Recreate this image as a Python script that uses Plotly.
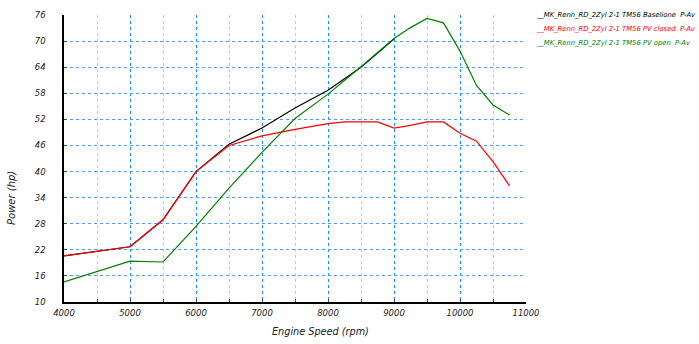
import plotly.graph_objects as go

# Data
rpm_base = [4000, 5000, 5500, 6000, 6500, 7000, 7500, 8000, 8500, 9000]
hp_base = [20.6, 22.7, 28.9, 40.0, 46.3, 50.0, 54.6, 58.7, 64.0, 70.5]

rpm_closed = [4000, 5000, 5500, 6000, 6500, 7000, 7500, 8000, 8250, 8500, 8750,
              9000, 9250, 9500, 9750, 10000, 10250, 10500, 10750]
hp_closed = [20.6, 22.7, 28.9, 40.0, 46.0, 48.2, 49.7, 51.0, 51.4, 51.4, 51.4,
             50.0, 50.6, 51.4, 51.4, 48.8, 47.0, 42.3, 36.7]

rpm_open = [4000, 5000, 5500, 6000, 6500, 7000, 7500, 8000, 8500, 9000, 9250,
            9500, 9750, 10000, 10250, 10500, 10750]
hp_open = [14.6, 19.4, 19.2, 27.4, 36.2, 44.4, 52.2, 57.8, 64.1, 70.6, 73.1,
           75.2, 74.2, 67.7, 59.8, 55.3, 53.0]

series_names = ["__MK_Renn_RD_2Zyl 2-1 TM56 Baselione  P-Av",
                "__MK_Renn_RD_2Zyl 2-1 TM56 PV closed  P-Av",
                "__MK_Renn_RD_2Zyl 2-1 TM56 PV open  P-Av"]
series_colors = ["#000000", "#ff0000", "#008000"]

y_ticks = [10, 16, 22, 28, 34, 40, 46, 52, 58, 64, 70, 76]
x_ticks = [4000, 5000, 6000, 7000, 8000, 9000, 10000, 11000]

FONT = "DejaVu Sans"

fig = go.Figure()
for xs, ys, name, col in [(rpm_base, hp_base, series_names[0], series_colors[0]),
                          (rpm_closed, hp_closed, series_names[1], series_colors[1]),
                          (rpm_open, hp_open, series_names[2], series_colors[2])]:
    fig.add_trace(go.Scatter(x=xs, y=ys, mode="lines", name=name,
                             line=dict(color=col, width=1.2), showlegend=False))

tickfont = dict(family=FONT, size=8.5, color="#222222")

fig.update_xaxes(range=[4000, 11000], tickvals=x_ticks,
                 ticktext=[f"<i>{v}</i>" for v in x_ticks],
                 minor=dict(dtick=500, tick0=4000, ticks="inside", ticklen=3,
                            tickcolor="#444444", showgrid=True,
                            gridcolor="#a8d0fa", griddash="dot"),
                 ticks="inside", ticklen=3, tickcolor="#444444",
                 showline=True, linecolor="#000000", linewidth=1.5,
                 tickfont=tickfont, zeroline=False, ticklabelstandoff=2,
                 showgrid=True, gridcolor="#1e88ff", gridwidth=1, griddash="dot")
fig.update_yaxes(range=[10, 76], tickvals=y_ticks,
                 ticktext=[f"<i>{v}</i>" for v in y_ticks],
                 ticks="inside", ticklen=3, tickcolor="#444444",
                 showline=True, linecolor="#000000", linewidth=1.5,
                 tickfont=tickfont, zeroline=False, ticklabelstandoff=15,
                 showgrid=True, gridcolor="#4a9dff", gridwidth=1, griddash="dot")

annots = []
for i, (name, col) in enumerate(zip(series_names, series_colors)):
    annots.append(dict(xref="paper", yref="paper", x=1.018, y=1 - i * 0.048,
                       xanchor="left", yanchor="middle", showarrow=False,
                       text=f"<i>{name}</i>",
                       font=dict(family=FONT, size=6.8, color=col)))
annots.append(dict(xref="paper", yref="paper", x=(320.5 - 64) / 462, y=-0.075,
                   xanchor="center", yanchor="top", showarrow=False,
                   text="<i>Engine Speed (rpm)</i>",
                   font=dict(family=FONT, size=9.7, color="#222222")))
annots.append(dict(xref="paper", yref="paper", x=(11.7 - 64) / 462,
                   y=(302 - 196.5) / 292, xanchor="center",
                   yanchor="middle", showarrow=False, textangle=-90,
                   text="<i>Power (hp)</i>",
                   font=dict(family=FONT, size=10, color="#222222")))

fig.update_layout(width=699, height=344,
                  margin=dict(l=64, r=173, t=10, b=42),
                  paper_bgcolor="white", plot_bgcolor="white",
                  annotations=annots, showlegend=False)

fig.write_html("out.html")
